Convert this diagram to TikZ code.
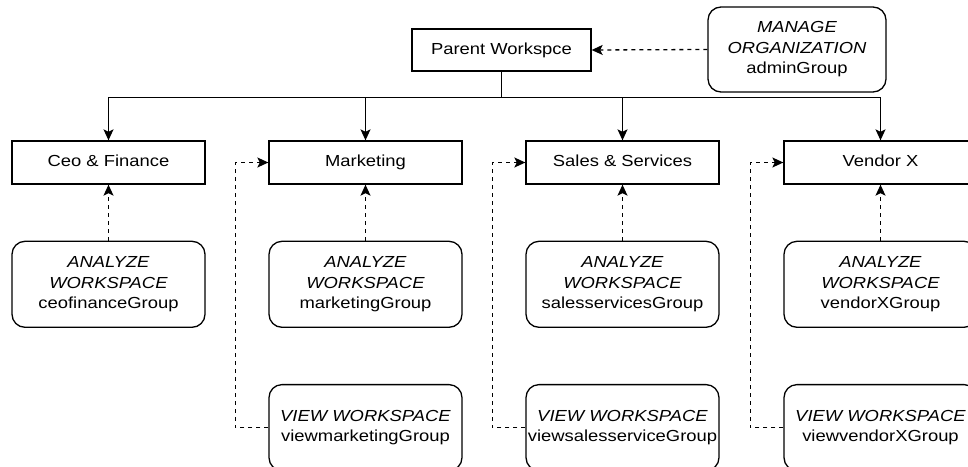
\documentclass[tikz,border=0pt]{standalone}
\usepackage{fontspec}
\setmainfont{Liberation Sans}[FakeStretch=1.15]
\usetikzlibrary{shapes,arrows,arrows.meta,positioning}

\begin{document}
\begin{tikzpicture}
                [
                    x=1pt, y=-1pt,
                    font=\fontsize{16}{20.5}\selectfont,
                    line width=1.3pt,
                    wsnode/.style={rectangle, draw=black, fill=white, minimum width=193pt, minimum height=43pt, inner sep=0pt, text height=11.5pt, text depth=3.5pt},
                    groupnode/.style={rectangle, rounded corners=13pt, draw=black, fill=white, minimum width=193pt, minimum height=86pt, inner sep=0pt, align=center},
                    treeline/.style={-{Stealth[length=11pt, width=10pt, inset=2.5pt]}},
                    rightsline/.style={dash pattern=on 4pt off 4pt, -{Stealth[length=11pt, width=10pt, inset=2.5pt]}},
                ]

                \clip (0,0) rectangle (968,466);

                \node [wsnode, minimum width=179pt, minimum height=42pt] (parent) at (501.5,50) {Parent Workspce};
                \node [groupnode, minimum width=178pt, minimum height=85pt] (admin) at (797,49.5) {\textit{MANAGE}\\\textit{ORGANIZATION}\\adminGroup};

                \node [wsnode] (ceo) at (108.5,162.5) {Ceo \& Finance};
                \node [wsnode] (marketing) at (365.5,162.5) {Marketing};
                \node [wsnode] (sales) at (622.5,162.5) {Sales \& Services};
                \node [wsnode] (vendor) at (880.5,162.5) {Vendor X};

                \node [groupnode] (aceo) [below=56pt of ceo] {\textit{ANALYZE}\\\textit{WORKSPACE}\\ceofinanceGroup};
                \node [groupnode] (amarketing) [below=56pt of marketing] {\textit{ANALYZE}\\\textit{WORKSPACE}\\marketingGroup};
                \node [groupnode] (asales) [below=56pt of sales] {\textit{ANALYZE}\\\textit{WORKSPACE}\\salesservicesGroup};
                \node [groupnode] (avendor) [below=56pt of vendor] {\textit{ANALYZE}\\\textit{WORKSPACE}\\vendorXGroup};

                \node [groupnode] (vmarketing) [below=56pt of amarketing] {\textit{VIEW WORKSPACE}\\viewmarketingGroup};
                \node [groupnode] (vsales) [below=56pt of asales] {\textit{VIEW WORKSPACE}\\viewsalesserviceGroup};
                \node [groupnode] (vvendor) [below=56pt of avendor] {\textit{VIEW WORKSPACE}\\viewvendorXGroup};

                \draw[treeline] (parent.south) -- ++(0,26) -| (ceo.north);
                \draw[treeline] (parent.south) -- ++(0,26) -| (marketing.north);
                \draw[treeline] (parent.south) -- ++(0,26) -| (sales.north);
                \draw[treeline] (parent.south) -- ++(0,26) -| (vendor.north);

                \draw[rightsline] (admin.west) -- (parent.east);

                \draw[rightsline] (aceo.north) -- (ceo.south);
                \draw[rightsline] (amarketing.north) -- (marketing.south);
                \draw[rightsline] (asales.north) -- (sales.south);
                \draw[rightsline] (avendor.north) -- (vendor.south);

                \draw[rightsline] (vmarketing.west) -- ++(-33,0) |- (marketing.west);
                \draw[rightsline] (vsales.west) -- ++(-33,0) |- (sales.west);
                \draw[rightsline] (vvendor.west) -- ++(-33,0) |- (vendor.west);

            \end{tikzpicture}
\end{document}
